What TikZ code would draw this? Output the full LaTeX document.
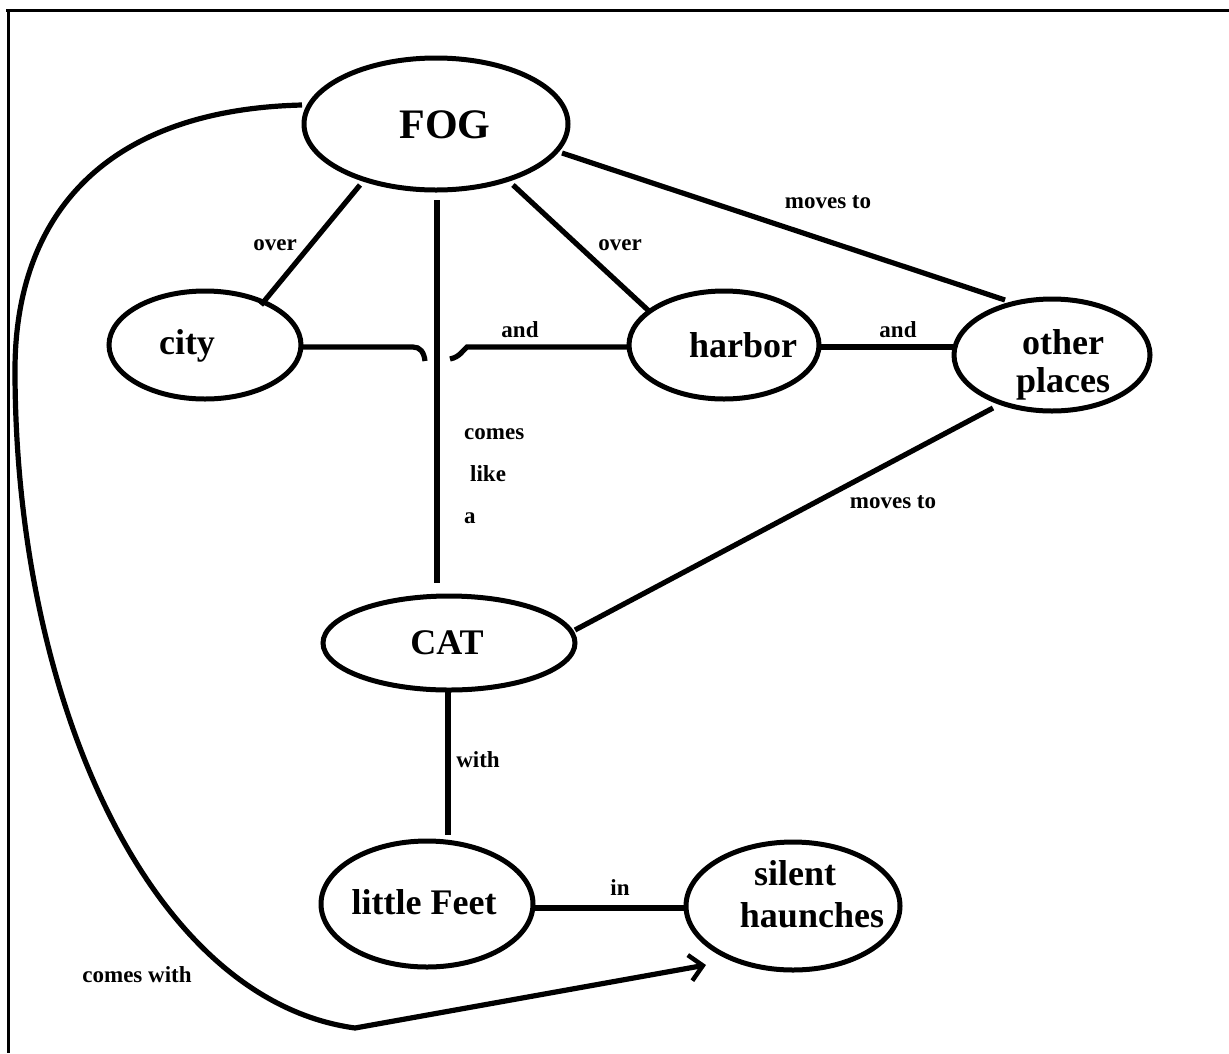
\documentclass[tikz,border=0pt]{standalone}
\usepackage{fontspec}
\setmainfont{Liberation Serif}
\usetikzlibrary{shapes.geometric,arrows.meta}
\begin{document}
\begin{tikzpicture}[x=1pt,y=-1pt,
  conc/.style={draw,ellipse,line width=5pt,inner sep=0pt},
  ctext/.style={font=\fontsize{36}{40}\selectfont\bfseries,inner sep=0pt,align=center},
  elab/.style={font=\fontsize{23}{42}\selectfont\bfseries,inner sep=0pt},
  link/.style={line width=5.2pt}]
\useasboundingbox (0,0) rectangle (1229,1053);
\coordinate (bTL) at (6,10);
\coordinate (bTR) at (1229,10);
\coordinate (bL1) at (8,10);
\coordinate (bL2) at (8,1053);
\draw[line width=3pt] (bTL) -- (bTR);
\draw[line width=3pt] (bL1) -- (bL2);
% concepts
\node[conc,minimum width=264pt,minimum height=132pt] (fog) at (436,124) {};
\node[ctext,font=\fontsize{42}{46}\selectfont\bfseries] (fogt) at (445,125) {FOG};
\node[conc,minimum width=192pt,minimum height=108pt] (city) at (205,345) {};
\node[ctext] (cityt) at (187,346) {city};
\node[conc,minimum width=190pt,minimum height=108pt] (harbor) at (724,345) {};
\node[ctext] (harbort) at (743,345) {harbor};
\node[conc,minimum width=196pt,minimum height=112pt] (other) at (1052,355) {};
\node[ctext] (othert) at (1063,365) {other\\[-2pt]places};
\node[conc,minimum width=252pt,minimum height=94pt] (cat) at (449,643) {};
\node[ctext] (catt) at (447,643) {CAT};
\node[conc,minimum width=212pt,minimum height=126pt] (feet) at (427,904) {};
\node[ctext] (feett) at (424,902) {little Feet};
\node[conc,minimum width=214pt,minimum height=128pt] (silent) at (793,906) {};
\node[ctext] (silentt) at (795,873) {silent};
\node[ctext] (silentt2) at (812,915) {haunches};
% link end points
\coordinate (fc1) at (360,185);  \coordinate (fc2) at (261,305);
\coordinate (fh1) at (513,185);  \coordinate (fh2) at (650,312);
\coordinate (fo1) at (562,153);  \coordinate (fo2) at (1005,300);
\coordinate (oc1) at (993,408);  \coordinate (oc2) at (575,630);
\coordinate (fogv) at (437,200); \coordinate (catv) at (437,583);
\coordinate (ch1) at (303,347);  \coordinate (ch2) at (628,347);
\coordinate (ho1) at (820,347);  \coordinate (ho2) at (955,347);
\coordinate (cats) at (448,690); \coordinate (feetn) at (448,835);
\coordinate (fs1) at (535,908);  \coordinate (fs2) at (686,908);
% links
\draw[link] (fc1) -- (fc2);
\draw[link] (fh1) -- (fh2);
\draw[link] (fo1) -- (fo2);
\draw[link] (fogv) -- (catv);
\coordinate (hopL) at (413,347);
\coordinate (hopR) at (467,347);
\coordinate (hopA) at (425,361);
\coordinate (hopB) at (450,359);
\draw[link] (ch1) -- (hopL) .. controls (420,347) and (424,352) .. (hopA);
\draw[link] (hopB) .. controls (460,357) and (463,350) .. (hopR) -- (ch2);
\draw[link] (ho1) -- (ho2);
\draw[link] (oc1) -- (oc2);
\draw[link] (cats) -- (feetn);
\draw[link] (fs1) -- (fs2);
\coordinate (fw) at (302,105);
\coordinate (cbot) at (355,1028);
\coordinate (atip) at (706,965);
\draw[link,-{Straight Barb[length=13pt,width=26pt,line width=4.5pt]}]
  (fw) .. controls (100,110) and (15,220) .. (15,370)
  .. controls (15,700) and (150,1000) .. (cbot) -- (atip);
% labels
\node[elab] (l1) at (275,245) {over};
\node[elab] (l2) at (620,245) {over};
\node[elab] (l3) at (828,202) {moves to};
\node[elab] (l4) at (520,330) {and};
\node[elab] (l5) at (898,330) {and};
\node[elab] (l6) at (893,502) {moves to};
\node[elab] (l7) at (478,760) {with};
\node[elab] (l8) at (620,888) {in};
\node[elab] (l9) at (137,975) {comes with};
\node[elab,align=left,anchor=north west] (clike) at (464,428) {comes\\\hspace*{6pt}like\\a};
\end{tikzpicture}
\end{document}
